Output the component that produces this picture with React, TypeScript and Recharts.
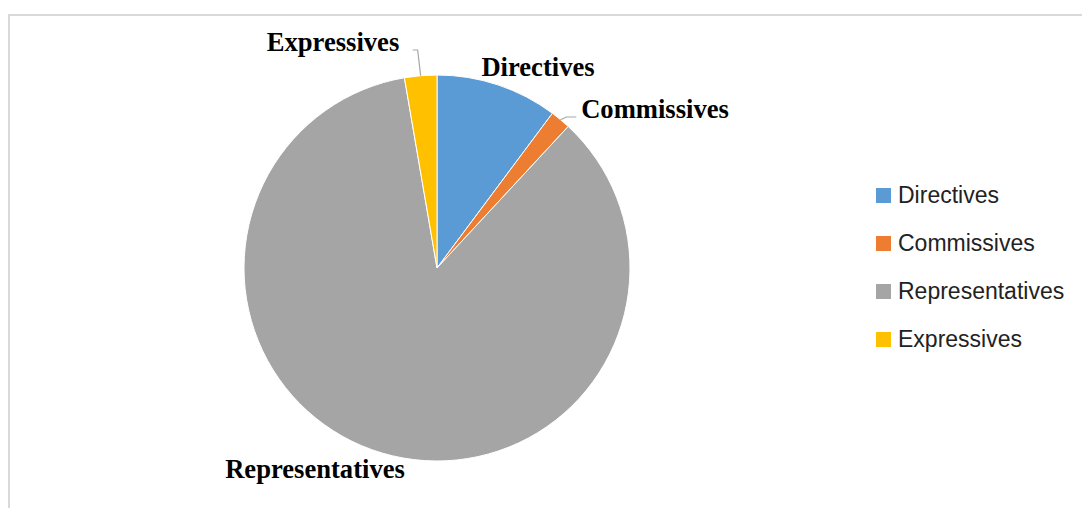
import { PieChart, Pie, Cell, Legend } from 'recharts';

const categories = ['Directives', 'Commissives', 'Representatives', 'Expressives'];
const shares = [10.2, 1.7, 85.4, 2.7];
const colors = ['#5B9BD5', '#ED7D31', '#A5A5A5', '#FFC000'];

// where each data label sits, relative to the pie centre (Excel "best fit" look)
const labelSpots: Record<string, { dx: number; dy: number; leader: boolean }> = {
  Directives: { dx: 101, dy: -192, leader: false },
  Commissives: { dx: 218, dy: -150, leader: true },
  Representatives: { dx: -122, dy: 210, leader: false },
  Expressives: { dx: -104, dy: -217, leader: true },
};

const data = categories.map((name, i) => ({ name, value: shares[i] }));

const RAD = Math.PI / 180;

const renderLabel = (props: any) => {
  const { cx, cy, midAngle, outerRadius, name } = props;
  const spot = labelSpots[name];
  if (!spot) return null;
  const tx = cx + spot.dx;
  const ty = cy + spot.dy;
  const px = cx + outerRadius * Math.cos(-midAngle * RAD);
  const py = cy + outerRadius * Math.sin(-midAngle * RAD);
  const textW = name.length * 13.4;
  const onLeft = tx < px;
  const endX = onLeft ? tx + textW / 2 + 6 : tx - textW / 2 - 5;
  const elbowX = onLeft ? px - 3 : px + 6;
  return (
    <g>
      {spot.leader && (
        <polyline
          points={`${px},${py} ${elbowX},${ty - 1} ${endX},${ty - 1}`}
          fill="none"
          stroke="#a6a6a6"
          strokeWidth={1.2}
        />
      )}
      <text
        x={tx}
        y={ty}
        textAnchor="middle"
        fill="#000"
        fontFamily="'Liberation Serif', 'Times New Roman', serif"
        fontWeight="bold"
        fontSize={26.6}
      >
        {name}
      </text>
    </g>
  );
};

const renderLegend = () => (
  <div style={{ fontFamily: "'Liberation Sans', Arial, sans-serif", fontSize: 23, color: '#222' }}>
    {categories.map((name, i) => (
      <div key={name} style={{ display: 'flex', alignItems: 'center', height: 48 }}>
        <span style={{ width: 15, height: 15, background: colors[i], marginRight: 7, display: 'inline-block' }} />
        <span>{name}</span>
      </div>
    ))}
  </div>
);

export default function App() {
  return (
    <div
      style={{
        marginTop: 6,
        width: 1082,
        height: 492,
        borderTop: '2px solid #d9d9d9',
        borderLeft: '2px solid #d9d9d9',
        background: '#fff',
        overflow: 'hidden',
      }}
    >
      <PieChart width={1080} height={490}>
        <Pie
          data={data}
          dataKey="value"
          nameKey="name"
          cx={422}
          cy={247}
          outerRadius={193}
          startAngle={90}
          endAngle={-270}
          stroke="#fff"
          strokeWidth={1}
          label={renderLabel}
          labelLine={false}
          isAnimationActive={false}
        >
          {data.map((d, i) => (
            <Cell key={d.name} fill={colors[i]} />
          ))}
        </Pie>
        <Legend
          content={renderLegend}
          wrapperStyle={{ left: 866, top: 155, width: 220 }}
        />
      </PieChart>
    </div>
  );
}
